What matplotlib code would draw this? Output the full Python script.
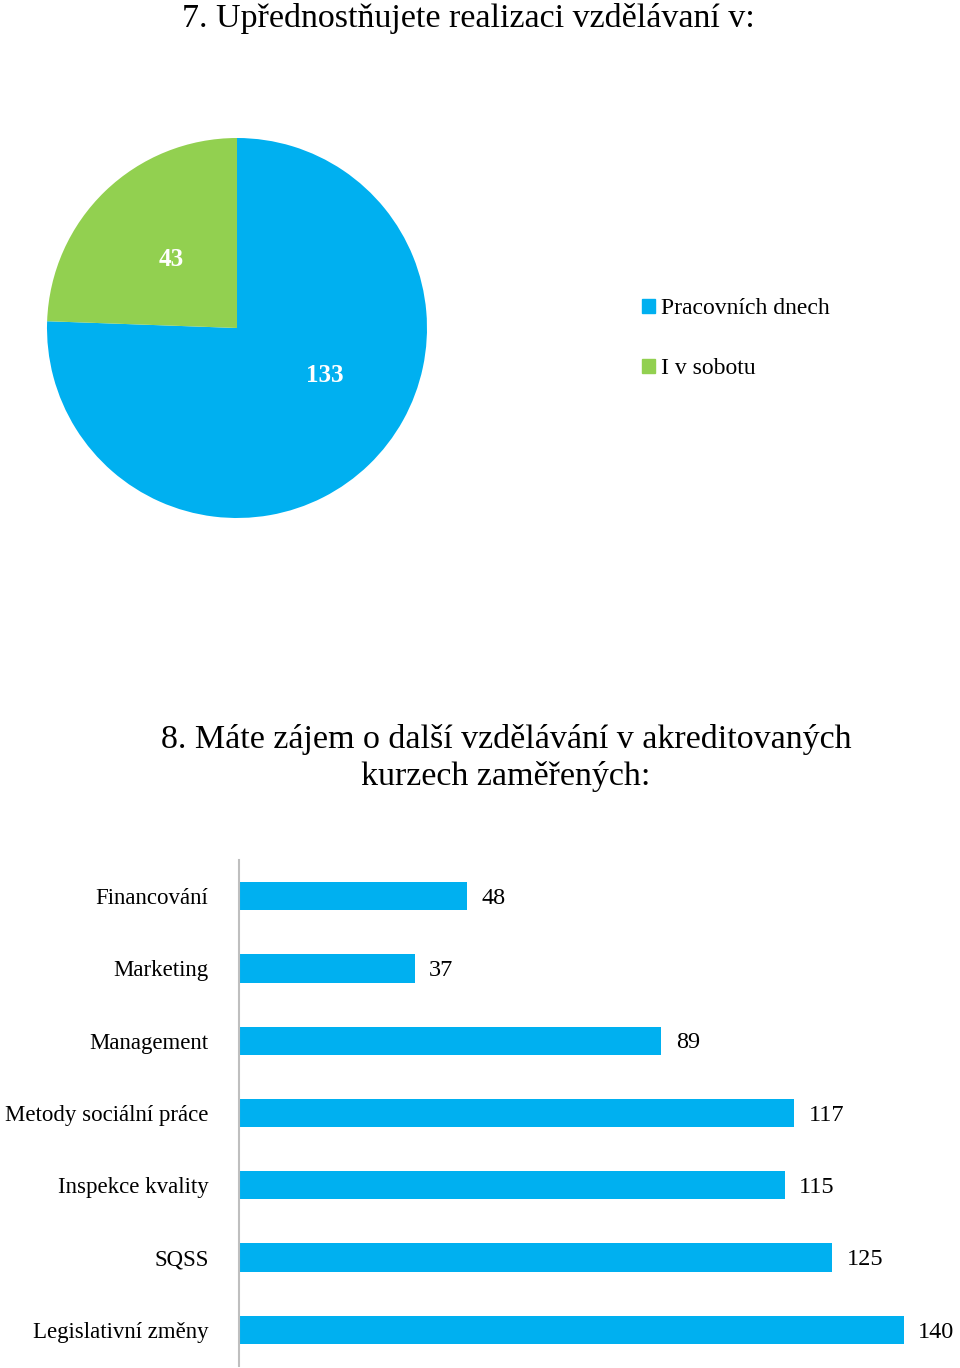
import matplotlib
matplotlib.use('Agg')
import matplotlib.pyplot as plt

# pie data
pie_labels = ["Pracovních dnech", "I v sobotu"]
pie_values = [133, 43]
pie_colors = ["#00B0F0", "#92D050"]

# bar data (top to bottom)
bar_labels = ["Financování", "Marketing", "Management", "Metody sociální práce",
              "Inspekce kvality", "SQSS", "Legislativní změny"]
bar_values = [48, 37, 89, 117, 115, 125, 140]
bar_color = "#00B0F0"

plt.rcParams['font.family'] = ['Liberation Serif', 'DejaVu Serif']

W, H = 960, 1368
fig = plt.figure(figsize=(W / 100, H / 100), dpi=100)
fig.patch.set_facecolor('white')

fig.text(468 / W, 1 - 18 / H, "7. Upřednostňujete realizaci vzdělávaní v:",
         ha='center', va='center', fontsize=24.5)

# pie
cx, cy, r = 237, 328, 190
ax1 = fig.add_axes([(cx - r) / W, (H - cy - r) / H, 2 * r / W, 2 * r / H])
wedges, texts, autotexts = ax1.pie(
    pie_values, colors=pie_colors, startangle=90, counterclock=False,
    autopct=lambda p: '{:.0f}'.format(p * sum(pie_values) / 100),
    pctdistance=0.5, radius=1,
    textprops=dict(color='white', fontsize=18, fontweight='bold'))
autotexts[0].set_position((0.46, -0.25))
ax1.set_xlim(-1, 1)
ax1.set_ylim(-1, 1)
ax1.set_aspect('equal')

handles = [plt.Rectangle((0, 0), 1, 1, color=c) for c in pie_colors]
fig.legend(handles, pie_labels, loc='upper left',
           bbox_to_anchor=(621 / W, 1 - 277 / H), frameon=False,
           fontsize=17, handlelength=0.55, handleheight=0.55,
           handletextpad=0.25, labelspacing=1.65)

fig.text(506 / W, 1 - 758 / H,
         "8. Máte zájem o další vzdělávání v akreditovaných\nkurzech zaměřených:",
         ha='center', va='center', fontsize=24.5, linespacing=1.27)

# bars
top, bottom = 860, 1366
ax2 = fig.add_axes([239 / W, (H - bottom) / H, 712 / W, (bottom - top) / H])
ypos = list(range(len(bar_labels)))
ax2.barh(ypos, bar_values, height=0.39, color=bar_color)
for y, v in zip(ypos, bar_values):
    ax2.text(v + 3, y + 0.03, str(v), va='center', ha='left', fontsize=17.5)
ax2.set_xlim(0, 150)
ax2.set_ylim(len(bar_labels) - 0.5, -0.5)
ax2.set_yticks(ypos)
ax2.set_yticklabels(bar_labels, fontsize=16.5)
for t in ax2.get_yticklabels():
    t.set_va('center_baseline')
ax2.tick_params(axis='y', length=0, pad=22)
ax2.set_xticks([])
for s in ['top', 'right', 'bottom']:
    ax2.spines[s].set_visible(False)
ax2.spines['left'].set_color('#BFBFBF')
ax2.spines['left'].set_linewidth(1.5)

fig.savefig('out.png', dpi=100)
